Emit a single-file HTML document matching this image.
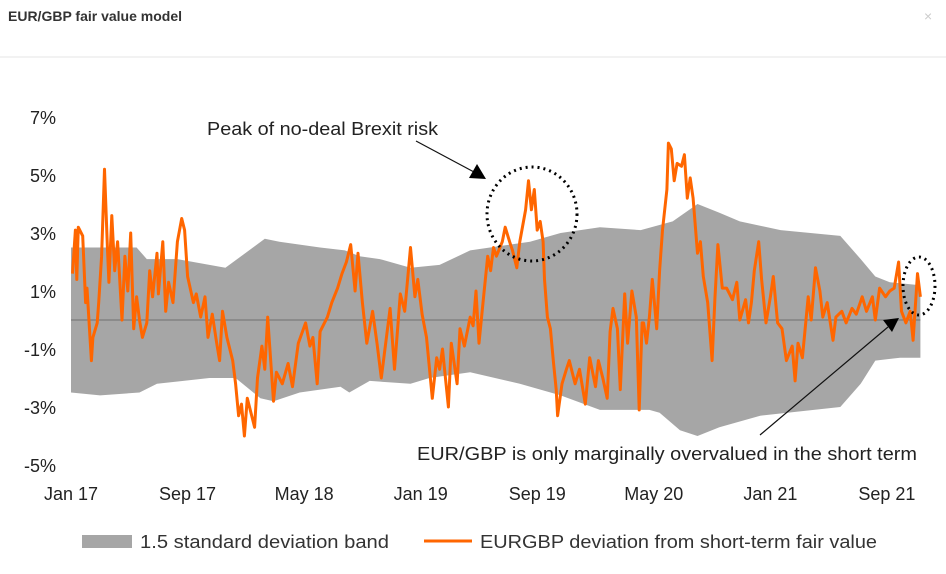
<!DOCTYPE html>
<html><head><meta charset="utf-8"><style>
body{margin:0;background:#fff;font-family:"Liberation Sans",sans-serif;}
#wrap{position:relative;width:946px;height:574px;overflow:hidden;}
</style></head><body><div id="wrap">
<svg id="svg" width="946" height="574" font-family="Liberation Sans, sans-serif">
<text x="8" y="21" font-size="14" font-weight="bold" fill="#333">EUR/GBP fair value model</text>
<text x="924" y="21" font-size="14" fill="#ccc">×</text>
<line x1="0" y1="57" x2="946" y2="57" stroke="#e4e4e4"/>
<g id="plot"></g>
<g id="annot">
<text x="207" y="135" font-size="18" fill="#222" textLength="231" lengthAdjust="spacingAndGlyphs">Peak of no-deal Brexit risk</text>
<line x1="416" y1="141" x2="474" y2="172" stroke="#111" stroke-width="1.2"/>
<polygon points="486,179 469,178 477,164" fill="#000"/>
<ellipse cx="532" cy="214" rx="45" ry="47" fill="none" stroke="#000" stroke-width="3" stroke-dasharray="2,4"/>
<ellipse cx="919" cy="286" rx="16" ry="29" fill="none" stroke="#000" stroke-width="3" stroke-dasharray="2,4"/>
<text x="417" y="460" font-size="18" fill="#222" textLength="500" lengthAdjust="spacingAndGlyphs">EUR/GBP is only marginally overvalued in the short term</text>
<line x1="760" y1="435" x2="888" y2="327" stroke="#111" stroke-width="1.2"/>
<polygon points="899,318 883,320 892,332" fill="#000"/>
</g>
<g>
<rect x="82" y="535" width="50" height="13" fill="#a6a6a6"/>
<text x="140" y="548" font-size="18" fill="#333" textLength="249" lengthAdjust="spacingAndGlyphs">1.5 standard deviation band</text>
<line x1="424" y1="541" x2="472" y2="541" stroke="#ff6600" stroke-width="3"/>
<text x="480" y="548" font-size="18" fill="#333" textLength="397" lengthAdjust="spacingAndGlyphs">EURGBP deviation from short-term fair value</text>
</g>
</svg>
<script>
const xTickLabels=["Jan 17","Sep 17","May 18","Jan 19","Sep 19","May 20","Jan 21","Sep 21"];
const xTickMonths=[0,8,16,24,32,40,48,56];
const yTicks=[7,5,3,1,-1,-3,-5];
const bandUpperT=[0,4.5,5.2,7.3,9.5,10.6,13.3,14.3,17.1,18.8,19.8,21.2,23.3,25.3,27.4,31.5,33.6,36.3,39.1,41.3,43.0,44.5,45.9,48.7,52.8,54.2,55.2,56.2,58.3];
const bandUpper=[2.5,2.5,2.1,2.1,1.9,1.8,2.8,2.7,2.5,2.4,2.2,2.1,1.8,1.9,2.4,2.7,3.0,3.2,3.1,3.4,4.0,3.7,3.4,3.1,2.9,2.1,1.5,1.3,1.2];
const bandLowerT=[0,2.0,4.7,5.9,9.5,11.3,13.0,13.9,15.7,18.5,19.1,20.5,23.3,24.6,27.4,30.8,33.6,36.3,39.7,40.4,41.8,43.0,44.5,47.3,52.8,54.2,55.2,56.9,58.3];
const bandLower=[-2.5,-2.6,-2.5,-2.2,-2.0,-2.0,-2.7,-2.8,-2.5,-2.3,-2.5,-2.1,-2.2,-2.0,-1.8,-2.2,-2.6,-3.1,-3.1,-3.2,-3.8,-4.0,-3.7,-3.3,-3.0,-2.2,-1.4,-1.3,-1.3];
const lineT=[0.1,0.3,0.4,0.5,0.8,1.0,1.1,1.4,1.5,1.8,1.9,2.1,2.3,2.5,2.6,2.8,3.0,3.2,3.5,3.7,3.9,4.1,4.3,4.5,4.7,4.9,5.2,5.4,5.6,5.9,6.0,6.3,6.5,6.7,7.0,7.3,7.6,7.8,8.0,8.4,8.6,8.9,9.2,9.4,9.7,10.0,10.2,10.4,10.7,11.1,11.3,11.5,11.7,11.9,12.1,12.4,12.6,12.8,13.1,13.3,13.5,13.9,14.1,14.5,14.9,15.2,15.6,16.1,16.4,16.6,16.9,17.1,17.6,17.9,18.3,18.6,18.9,19.2,
19.5,19.7,20.0,20.3,20.7,21.0,21.3,21.6,21.9,22.2,22.6,22.9,23.3,23.6,23.8,24.1,24.4,24.8,25.1,25.3,25.5,25.9,26.1,26.5,26.7,27.0,27.4,27.6,27.8,28.0,28.3,28.6,28.8,29.0,29.2,29.6,29.8,30.1,30.3,30.6,30.8,31.2,31.4,31.6,31.8,32.0,32.2,32.4,32.5,32.7,32.9,33.1,33.3,33.4,33.7,34.0,34.2,34.6,34.9,35.3,35.6,36.0,36.2,36.5,36.8,37.0,37.2,37.5,37.7,38.0,38.2,38.5,38.8,39.0,39.2,
39.3,39.5,39.7,39.9,40.2,40.4,40.6,40.9,41.0,41.2,41.4,41.6,41.9,42.1,42.3,42.5,42.7,43.0,43.2,43.4,43.7,44.0,44.2,44.4,44.7,45.0,45.4,45.7,45.9,46.3,46.5,46.7,46.9,47.2,47.4,47.7,48.0,48.2,48.5,48.8,49.1,49.5,49.7,49.9,50.2,50.6,50.8,51.1,51.4,51.6,51.9,52.3,52.5,52.9,53.2,53.6,53.9,54.3,54.6,55.0,55.2,55.5,55.9,56.2,56.5,56.8,57.0,57.3,57.6,57.8,58.1,58.3];
const lineV=[1.6,3.1,1.4,3.2,2.9,0.6,1.1,-1.4,-0.6,-0.1,0.6,2.2,5.2,2.5,1.3,3.6,1.7,2.7,0,2.2,1.0,3.0,-0.3,0.8,0,-0.6,-0.1,1.7,0.8,2.3,0.9,2.7,0.3,1.3,0.6,2.7,3.5,3.1,1.5,0.6,0.9,0.1,0.8,-0.6,0.2,-0.8,-1.4,0.3,-0.6,-1.4,-2.2,-3.3,-2.9,-4.0,-2.7,-3.3,-3.7,-2.0,-0.9,-1.7,0.1,-2.8,-1.8,-2.2,-1.5,-2.3,-0.8,-0.1,-0.9,-0.6,-2.2,-0.4,0.1,0.6,1.1,1.6,2.0,2.6,
1.0,2.3,0.6,-0.8,0.3,-0.8,-2.0,-0.8,0.4,-1.7,0.9,0.3,2.5,0.8,1.4,0.2,-0.6,-2.7,-1.3,-1.7,-1.0,-3.0,-0.8,-2.2,-0.3,-0.9,0.1,-0.2,1.0,-0.8,0.7,2.2,1.7,2.5,2.2,2.7,3.2,2.7,2.4,1.8,2.7,3.8,4.8,3.8,4.5,3.1,3.4,2.7,1.4,0.1,-0.3,-1.4,-2.4,-3.3,-2.2,-1.7,-1.4,-2.2,-1.7,-2.9,-1.3,-2.3,-1.4,-2.0,-2.7,-0.4,0.4,-0.3,-2.4,0.9,-0.8,1.0,0.1,-3.1,-0.1,
-0.1,-0.8,0.1,1.4,-0.3,1.7,3.1,4.5,6.1,5.9,4.8,5.4,5.3,5.7,4.2,4.9,4.2,2.3,2.7,1.5,0.6,-1.4,0.8,2.6,1.1,1.1,0.7,1.3,0,0.7,-0.1,0.6,1.7,2.7,1.4,-0.1,0.8,1.5,-0.1,-0.3,-1.4,-0.9,-2.1,-0.8,-1.3,0.8,0,1.8,1.0,0.1,0.6,-0.7,0.1,0.3,-0.1,0.4,0.2,0.8,0.3,0.8,0,1.1,0.8,1.0,1.1,2.0,0.3,-0.1,0.3,-0.7,1.6,0.8];
const NS='http://www.w3.org/2000/svg';
const plot=document.getElementById('plot');
const xS=m=>71+m*14.57;
const yS=v=>320-v*29;
function mk(tag,attrs){const e=document.createElementNS(NS,tag);for(const k in attrs)e.setAttribute(k,attrs[k]);plot.appendChild(e);return e;}
let d='M'+bandUpperT.map((t,i)=>xS(t).toFixed(1)+','+yS(bandUpper[i]).toFixed(1)).join('L');
for(let i=bandLowerT.length-1;i>=0;i--)d+='L'+xS(bandLowerT[i]).toFixed(1)+','+yS(bandLower[i]).toFixed(1);
const band=mk('path',{d:d+'Z',fill:'#a6a6a6'});


const zl=mk('line',{x1:71,x2:xS(58.3),y1:yS(0),y2:yS(0),stroke:'#707070','stroke-width':1});


yTicks.forEach(v=>{const t=mk('text',{x:56,y:yS(v)+7,'font-size':18,'text-anchor':'end',fill:'#222'});t.textContent=v+'%';

});
xTickLabels.forEach((l,i)=>{const t=mk('text',{x:xS(xTickMonths[i]),y:500,'font-size':18,'text-anchor':'middle',fill:'#222'});t.textContent=l;

});
const ln=mk('path',{d:'M'+lineT.map((t,i)=>xS(t).toFixed(1)+','+yS(lineV[i]).toFixed(1)).join('L'),fill:'none',stroke:'#ff6600','stroke-width':3,'stroke-linejoin':'round'});


</script>
</div></body></html>
